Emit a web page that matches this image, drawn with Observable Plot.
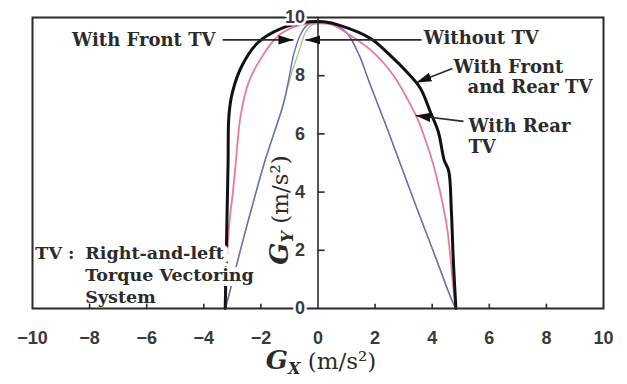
<!DOCTYPE html>
<html>
<head>
<meta charset="utf-8">
<script src="https://cdn.jsdelivr.net/npm/d3@7"></script>
<script src="https://cdn.jsdelivr.net/npm/@observablehq/plot@0.6"></script>
<style>
  body { margin: 0; background: #fff; }
</style>
</head>
<body>
<div id="chart"></div>
<script>
// Axis ticks and their labels
const xTickValues = [-10, -8, -6, -4, -2, 0, 2, 4, 6, 8, 10];
const xTickLabels = ["\u221210", "\u22128", "\u22126", "\u22124", "\u22122", "0", "2", "4", "6", "8", "10"];
const yTickValues = [0, 2, 4, 6, 8, 10];
const yTickLabels = ["0", "2", "4", "6", "8", "10"];
const xInnerTicks = [-8, -6, -4, -2, 2, 4, 6, 8];
const yInnerTicks = [2, 4, 6, 8];

// G-G envelope, with front and rear torque vectoring (m/s²)
const frontRearGx = [-3.25, -3.22, -3.18, -3.15, -3.12, -3.0, -2.66, -2.1, -1.3, -0.5, 0.2, 0.79, 1.84, 2.54, 3.13, 3.59, 3.94, 4.22, 4.42, 4.58, 4.67, 4.74, 4.83];
const frontRearGy = [0, 1.5, 3.5, 5.0, 6.63, 7.42, 8.35, 9.14, 9.62, 9.83, 9.85, 9.72, 9.28, 8.69, 8.11, 7.56, 6.74, 6.05, 5.1, 4.72, 3.37, 1.65, 0];

// With rear torque vectoring
const rearGx = [-3.25, -3.2, -3.1, -2.98, -2.89, -2.71, -2.43, -1.94, -1.38, -0.7, 0, 0.5, 1.14, 1.94, 2.65, 3.13, 3.48, 3.83, 4.05, 4.29, 4.52, 4.65, 4.75, 4.83];
const rearGy = [0, 1.5, 3.0, 4.0, 4.91, 6.63, 7.77, 8.69, 9.38, 9.72, 9.8, 9.75, 9.38, 8.8, 8.0, 7.2, 6.53, 5.6, 4.91, 3.95, 2.78, 1.65, 0.6, 0];

// With front torque vectoring
const frontGx = [-3.24, -2.98, -2.72, -2.45, -2.17, -1.88, -1.55, -1.22, -1.0, -0.86, -0.62, -0.4, -0.1, 0.3, 0.7, 1.03, 1.45, 1.75, 2.07, 2.42, 2.84, 3.27, 3.72, 4.16, 4.6, 4.82];
const frontGy = [0, 1, 2, 3, 4, 5, 6, 7, 8, 8.7, 9.4, 9.72, 9.85, 9.82, 9.7, 9.45, 8.69, 7.9, 7.08, 6.19, 5.09, 3.95, 2.78, 1.65, 0.5, 0];

// Without torque vectoring
const withoutGx = [-3.24, -2.98, -2.72, -2.45, -2.17, -1.88, -1.55, -1.22, -0.95, -0.68, -0.44, -0.2, 0.2, 0.6, 1.03, 1.45, 1.75, 2.07, 2.42, 2.84, 3.27, 3.72, 4.16, 4.6, 4.82];
const withoutGy = [0, 1, 2, 3, 4, 5, 6, 7, 8.0, 8.8, 9.48, 9.75, 9.8, 9.72, 9.45, 8.69, 7.9, 7.08, 6.19, 5.09, 3.95, 2.78, 1.65, 0.5, 0];

const seriesNames = ["Without TV", "With Front TV", "With Rear TV", "With Front and Rear TV"];
const seriesGx = [withoutGx, frontGx, rearGx, frontRearGx];
const seriesGy = [withoutGy, frontGy, rearGy, frontRearGy];

const lineStyle = {
  "Without TV": {stroke: "#9ccf7e", strokeWidth: 1.4},
  "With Front TV": {stroke: "#6a68c4", strokeWidth: 1.4},
  "With Rear TV": {stroke: "#ea78a0", strokeWidth: 1.8},
  "With Front and Rear TV": {stroke: "#111", strokeWidth: 3}
};

const curves = seriesNames.map((name, k) => ({
  name,
  points: seriesGx[k].map((gx, i) => ({gx, gy: seriesGy[k][i]}))
}));

// Callout labels and leader arrows (in G units)
const calloutsLeft = [
  {text: "With Front TV", gx: -3.59, gy: 9.21}
];
const calloutsRight = [
  {text: "Without TV", gx: 3.70, gy: 9.28},
  {text: "With Front", gx: 4.75, gy: 8.28},
  {text: "and Rear TV", gx: 5.24, gy: 7.59},
  {text: "With Rear", gx: 5.27, gy: 6.25},
  {text: "TV", gx: 5.27, gy: 5.53}
];
const leaders = [
  {x1: -3.34, y1: 9.23, x2: -0.86, y2: 9.23},
  {x1: 3.63, y1: 9.23, x2: -0.44, y2: 9.23},
  {x1: 4.71, y1: 8.25, x2: 3.45, y2: 7.77},
  {x1: 5.10, y1: 6.43, x2: 3.42, y2: 6.63}
];
const noteLines = [
  {text: "TV :", gx: -9.9, gy: 1.89},
  {text: "Right-and-left", gx: -8.15, gy: 1.89},
  {text: "Torque Vectoring", gx: -8.15, gy: 1.13},
  {text: "System", gx: -8.15, gy: 0.38}
];

// Filled arrowhead marker for the leader lines
function arrowHead(color, context) {
  const ns = "http://www.w3.org/2000/svg";
  const doc = (context && context.document) || document;
  const marker = doc.createElementNS(ns, "marker");
  marker.setAttribute("viewBox", "-15 -5 15 10");
  marker.setAttribute("markerWidth", 15);
  marker.setAttribute("markerHeight", 10);
  marker.setAttribute("markerUnits", "userSpaceOnUse");
  marker.setAttribute("orient", "auto");
  marker.setAttribute("refX", 0);
  marker.setAttribute("refY", 0);
  marker.setAttribute("fill", "#111");
  marker.setAttribute("stroke", "none");
  const path = doc.createElementNS(ns, "path");
  path.setAttribute("d", "M0,0L-15,-4.6L-15,4.6Z");
  marker.appendChild(path);
  return marker;
}

const serif = "'DejaVu Serif', 'Liberation Serif', serif";
const sans = "'Liberation Sans', Arial, sans-serif";
const ink = "#2b2b2b";
const calloutFont = {fontFamily: serif, fontWeight: "bold", fontSize: 18, fill: ink};
const noteFont = {fontFamily: serif, fontWeight: "bold", fontSize: 17.5, fill: ink};
const tickFont = {fontFamily: sans, fontWeight: "bold", fontSize: 18, fill: "#3a3a3a"};

const Y_TITLE = "GY (m/s\u00b2)";
const X_TITLE = "GX (m/s\u00b2)";

const svg = Plot.plot({
  width: 627,
  height: 384,
  marginLeft: 32,
  marginRight: 24,
  marginTop: 17,
  marginBottom: 76,
  x: {domain: [-10, 10], axis: null},
  y: {domain: [0, 10], axis: null},
  style: {background: "#fff"},
  marks: [
    ...curves.map(c => Plot.line(c.points, {
      x: "gx", y: "gy", curve: "catmull-rom",
      stroke: lineStyle[c.name].stroke,
      strokeWidth: lineStyle[c.name].strokeWidth
    })),
    // explanatory note, on a white halo
    Plot.text(noteLines, {
      x: "gx", y: "gy", text: "text", textAnchor: "start",
      ...noteFont, stroke: "#fff", strokeWidth: 10
    }),
    Plot.frame({stroke: ink, strokeWidth: 2}),
    Plot.ruleX([0], {stroke: ink, strokeWidth: 1.6}),
    Plot.ruleX(xInnerTicks, {x: d => d, y1: 0, y2: 0.15, stroke: ink, strokeWidth: 1.6}),
    Plot.ruleY(yInnerTicks, {y: d => d, x1: 0, x2: 0.25, stroke: ink, strokeWidth: 1.6}),
    Plot.text(xTickValues, {
      x: d => d, y: 0, dy: 30, text: (d, i) => xTickLabels[i], ...tickFont
    }),
    Plot.text(yTickValues, {
      x: 0, y: d => d, dx: -13, text: (d, i) => yTickLabels[i], textAnchor: "end",
      ...tickFont, stroke: "#fff", strokeWidth: 5
    }),
    Plot.link(leaders, {
      x1: "x1", y1: "y1", x2: "x2", y2: "y2",
      stroke: ink, strokeWidth: 1.6, markerEnd: arrowHead
    }),
    Plot.text(calloutsLeft, {x: "gx", y: "gy", text: "text", textAnchor: "end", ...calloutFont}),
    Plot.text(calloutsRight, {x: "gx", y: "gy", text: "text", textAnchor: "start", ...calloutFont}),
    Plot.text([Y_TITLE], {
      frameAnchor: "middle", dx: -37, dy: 47, rotate: -90,
      fontFamily: serif, fontSize: 23, fill: ink
    }),
    Plot.text([X_TITLE], {
      frameAnchor: "bottom", dx: 3, dy: 60,
      fontFamily: serif, fontSize: 23, fill: ink
    })
  ]
});

// Axis titles: italic bold G with a subscript, then the unit
d3.select(svg).selectAll("text").each(function() {
  const t = this.textContent;
  if (t !== Y_TITLE && t !== X_TITLE) return;
  const sub = t === Y_TITLE ? "Y" : "X";
  const sel = d3.select(this).text("");
  sel.append("tspan").text("G")
    .attr("font-style", "italic").attr("font-weight", "bold").attr("font-size", 26);
  sel.append("tspan").text(sub).attr("dy", 5)
    .attr("font-style", "italic").attr("font-weight", "bold").attr("font-size", 16);
  sel.append("tspan").text(" (m/s\u00b2)").attr("dy", -5).attr("font-size", 23);
});

document.getElementById("chart").appendChild(svg);
</script>
</body>
</html>
